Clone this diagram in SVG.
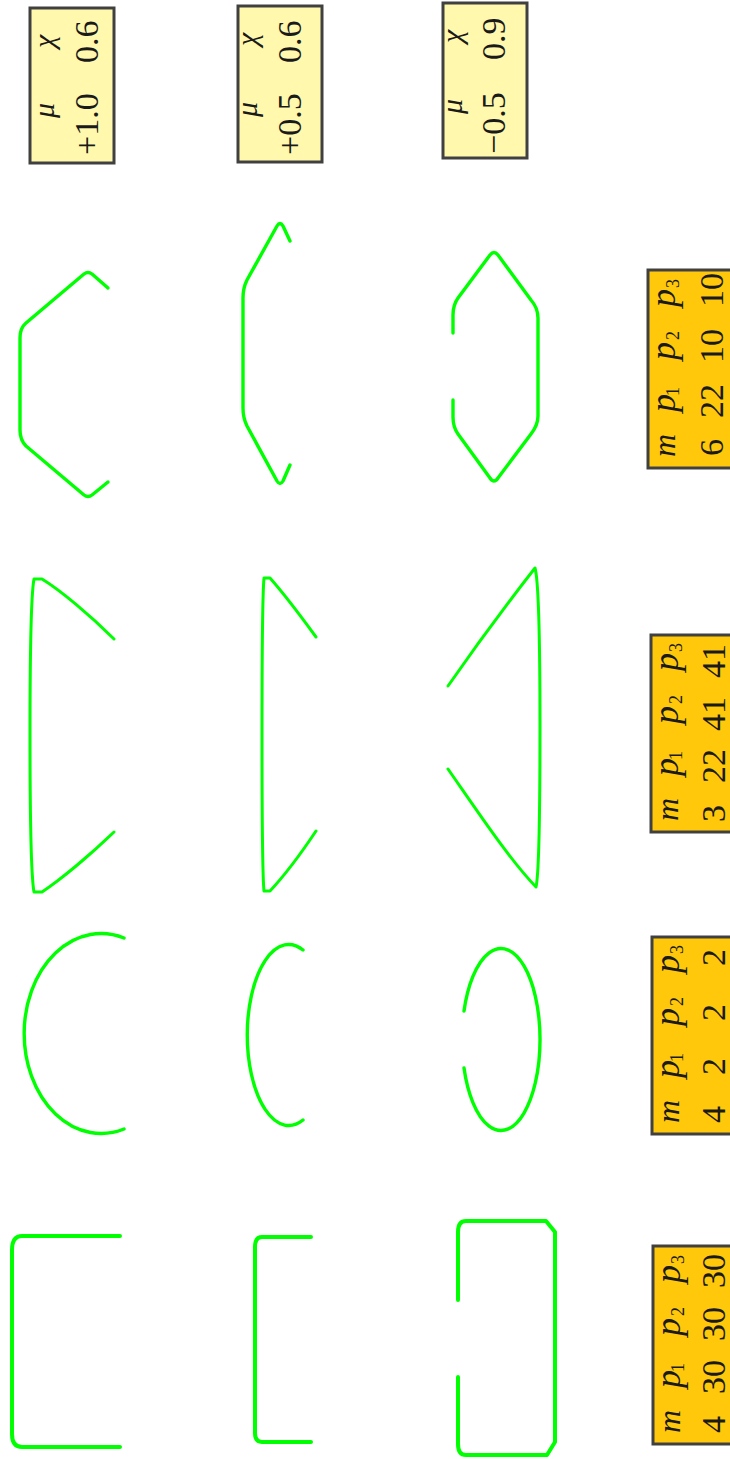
<svg xmlns="http://www.w3.org/2000/svg" width="730" height="1459" viewBox="0 0 730 1459">
<style>
.g{fill:none;stroke:#00ff00;stroke-width:3.4;stroke-linecap:round;stroke-linejoin:round}
.t{stroke-width:3}
.w{stroke-width:4}
.y{fill:#fff8ad;stroke:#404040;stroke-width:3}
.o{fill:#ffc80a;stroke:#404040;stroke-width:3}
text{font-family:"Liberation Serif","Times New Roman",serif;fill:#1a1a1a}
.n{font-size:34px}
.i{font-size:30px;font-style:italic}
.p{font-size:36px;font-style:italic}
.m{font-size:32px;font-style:italic}
.s{font-size:18px}
</style>
<defs>
<g id="head">
<text class="m" x="11" y="27">m</text>
<text class="p" x="56" y="27">p</text><text class="s" x="72" y="31">1</text>
<text class="p" x="108" y="27">p</text><text class="s" x="128" y="31">2</text>
<text class="p" x="161" y="27">p</text><text class="s" x="180" y="31">3</text>
</g>
</defs>
<g id="shapes">
<path id="a1" class="g" d="M108,288L92,274Q88,271 84,274L26,323Q20,328 20,338L20,430Q20,440 26,446L84,495Q88,498 92,495L108,482"/>
<path id="a2" class="g" d="M290,241L283,226Q280,221 277,226L247,280Q243,288 243,298L243,408Q243,418 247,426L277,481Q280,486 283,481L290,465"/>
<path id="a3" class="g" d="M453,333L453,315Q453,305 458,298L490,255Q494,250 498,255L531,300Q538,308 538,318L538,416Q538,425 531,434L498,478Q494,484 490,478L458,434Q453,427 453,417L453,400"/>
<path id="b1" class="g t" d="M114,639C90,615 60,590 42,579L34,579Q30,600 30,735Q30,870 34,892L42,892C60,880 90,855 114,832"/>
<path id="b2" class="g t" d="M316,637C300,615 285,595 270,578L264,578Q262,600 262,735Q262,870 264,891L270,891C285,875 300,855 316,831"/>
<path id="b3" class="g t" d="M448,686C480,640 510,600 535,568Q540,585 540,727Q540,870 536,887C510,860 480,815 448,769"/>
<path id="c1" class="g" d="M124,938A77,100 0 1 0 124,1129"/>
<path id="c2" class="g" d="M303,950A41.5,90.5 0 1 0 303,1120"/>
<path id="c3" class="g" d="M464,1011A39,91 0 1 1 464,1068"/>
<path id="d1" class="g w" d="M120,1236L22,1236Q12,1236 12,1250L12,1434Q12,1447 22,1447L120,1447"/>
<path id="d2" class="g w" d="M311,1237L262,1237Q255,1237 255,1247L255,1433Q255,1442 262,1442L311,1442"/>
<path id="d3" class="g w" d="M458,1300L458,1232Q458,1221 466,1221L546,1221L555,1232L555,1442L547,1455L466,1455Q458,1455 458,1444L458,1377"/>
</g>
<g id="y1" transform="translate(30,163) rotate(-90)">
<rect class="y" width="155" height="84"/>
<text class="i" x="45" y="24">μ</text><text class="i" x="115" y="24">χ</text>
<text class="n" x="8" y="68">+1.0</text><text class="n" x="100" y="68">0.6</text>
</g>
<g id="y2" transform="translate(238,162) rotate(-90)">
<rect class="y" width="156" height="84"/>
<text class="i" x="45" y="19">μ</text><text class="i" x="116" y="19">χ</text>
<text class="n" x="7" y="63">+0.5</text><text class="n" x="99" y="63">0.6</text>
</g>
<g id="y3" transform="translate(443,158) rotate(-90)">
<rect class="y" width="155" height="84"/>
<text class="i" x="44" y="19">μ</text><text class="i" x="115" y="19">χ</text>
<text class="n" x="4" y="62">−0.5</text><text class="n" x="98" y="62">0.9</text>
</g>
<g id="o1" transform="translate(648,468) rotate(-90)">
<rect class="o" width="198" height="90"/><use href="#head"/>
<text class="n" x="12" y="75">6</text><text class="n" x="50" y="75">22</text><text class="n" x="105" y="75">10</text><text class="n" x="161" y="75">10</text>
</g>
<g id="o2" transform="translate(651,832) rotate(-90)">
<rect class="o" width="197" height="90"/><use href="#head"/>
<text class="n" x="10" y="74">3</text><text class="n" x="49" y="74">22</text><text class="n" x="101" y="74">41</text><text class="n" x="154" y="74">41</text>
</g>
<g id="o3" transform="translate(652,1134) rotate(-90)">
<rect class="o" width="197" height="90"/><use href="#head"/>
<text class="n" x="11" y="73">4</text><text class="n" x="59" y="73">2</text><text class="n" x="113" y="73">2</text><text class="n" x="168" y="73">2</text>
</g>
<g id="o4" transform="translate(653,1444) rotate(-90)">
<rect class="o" width="198" height="90"/><use href="#head"/>
<text class="n" x="11" y="72">4</text><text class="n" x="50" y="72">30</text><text class="n" x="103" y="72">30</text><text class="n" x="156" y="72">30</text>
</g>
</svg>
